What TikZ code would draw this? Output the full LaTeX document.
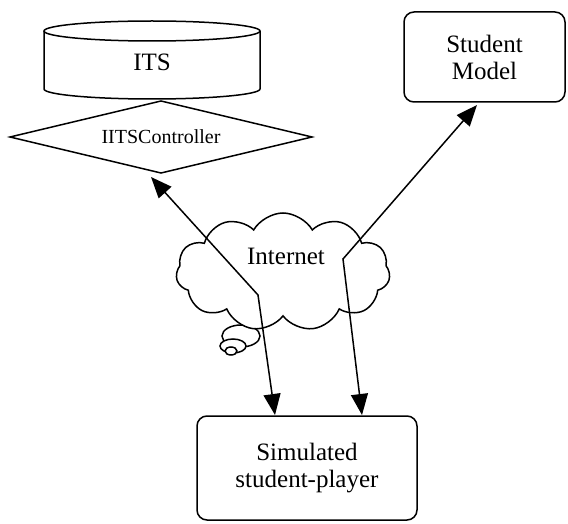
\documentclass[tikz,border=0pt]{standalone}
\usepackage{fontspec}
\setmainfont{Liberation Serif}
\usetikzlibrary{shapes.geometric,shapes.symbols,arrows.meta}
\begin{document}
\begin{tikzpicture}[x=1pt,y=1pt,
  line width=1.5pt,
  bigtext/.style={font=\fontsize{25}{29}\selectfont},
  smalltext/.style={font=\fontsize{20}{24}\selectfont},
  rbox/.style={draw,rounded corners=10pt,inner sep=0pt,align=center,bigtext},
  conn/.style={{Triangle[length=21pt,width=17pt]}-{Triangle[length=21pt,width=17pt]}},
]
\useasboundingbox (0,0) rectangle (568,523);
% ITS cylinder
\draw (152,492) ellipse[x radius=108,y radius=10];
\draw (44,492) -- (44,434) arc[start angle=180,end angle=360,x radius=108,y radius=10] -- (260,492);
\node[bigtext] (its) at (152,461) {ITS};
% controller diamond
\draw[fill=white] (10,386) -- (161,422) -- (312,386) -- (161,350) -- cycle;
\node[smalltext] (ctrl) at (161,386) {IITSController};
% Student model
\node[rbox,minimum width=161pt,minimum height=90pt] (sm) at (484.5,466) {Student\\[-2pt]Model};
% Simulated student-player
\node[rbox,minimum width=220pt,minimum height=104pt] (sim) at (307,55) {Simulated\\[-2pt]student-player};
% thought bubbles
\draw[fill=white] (241,187) ellipse[x radius=19,y radius=11];
\draw[fill=white] (233,177) ellipse[x radius=13,y radius=7];
\draw[fill=white] (231,172) ellipse[x radius=6,y radius=4];
% cloud
\node[draw,fill=white,cloud,cloud puffs=11,cloud puff arc=120,aspect=1.8,
  minimum width=214pt,minimum height=118pt,inner sep=0pt] (net) at (283,251) {};
\node[bigtext] (nettext) at (286,267) {Internet};
% connectors
\coordinate (t1) at (151,346);
\coordinate (b1) at (258,228);
\coordinate (s1) at (275,108);
\coordinate (t2) at (477,418);
\coordinate (b2) at (343,264);
\coordinate (s2) at (362,108);
\draw[conn] (t1) -- (b1) -- (s1);
\draw[conn] (t2) -- (b2) -- (s2);
\end{tikzpicture}
\end{document}
